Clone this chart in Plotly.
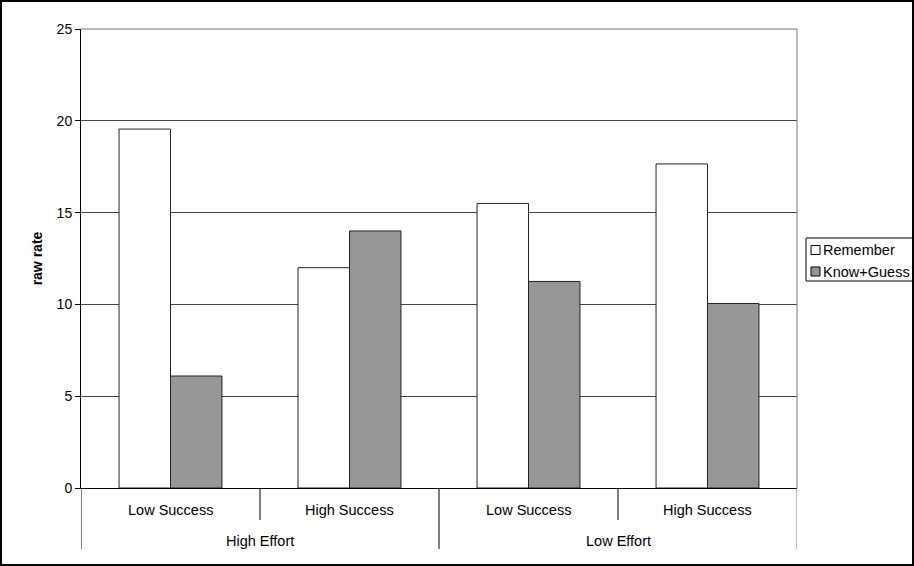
import plotly.graph_objects as go

# Grouped categories: effort level (outer) and success level (inner)
effort_groups = ["High Effort", "Low Effort"]
success = ["Low Success", "High Success", "Low Success", "High Success"]
group_of = [0, 0, 1, 1]

series_names = ["Remember", "Know+Guess"]
remember = [19.55, 12.0, 15.5, 17.65]
know_guess = [6.1, 14.0, 11.25, 10.05]

y_ticks = [0, 5, 10, 15, 20, 25]

FONT = "Liberation Sans, Arial, sans-serif"
FILLS = ["#ffffff", "#969696"]
EDGE = "#222222"

pos = list(range(len(success)))

fig = go.Figure()
for name, vals, fill in zip(series_names, [remember, know_guess], FILLS):
    fig.add_trace(go.Bar(
        x=pos, y=vals, name=name,
        marker=dict(color=fill, line=dict(color=EDGE, width=1)),
    ))

W, H = 914, 566
L, R, T, B = 81, 117, 29, 78
pw = W - L - R
ph = H - T - B

def px_x(p):
    return (p - L) / pw

def px_y(p):
    return (H - B - p) / ph

shapes = []
annotations = []

# inner category labels and short dividers between them
for i, lab in enumerate(success):
    annotations.append(dict(
        x=i, y=px_y(510), xref="x", yref="paper", text=lab, showarrow=False,
        font=dict(size=14.5), xanchor="center", yanchor="middle"))
for i in range(len(success) + 1):
    b = i - 0.5
    outer = i == 0 or i == len(success) or group_of[i] != group_of[i - 1]
    shapes.append(dict(
        type="line", xref="x", yref="paper", x0=b, x1=b, y0=0,
        y1=px_y(549) if outer else px_y(520),
        line=dict(color="#000000" if i < len(success) else "#777777", width=1)))

# outer group labels
for g, lab in enumerate(effort_groups):
    members = [i for i in pos if group_of[i] == g]
    annotations.append(dict(
        x=sum(members) / len(members), y=px_y(541), xref="x", yref="paper",
        text=lab, showarrow=False, font=dict(size=14.5),
        xanchor="center", yanchor="middle"))

# plot-area top and right edges
shapes.append(dict(type="line", xref="paper", yref="paper", x0=0, x1=1, y0=1, y1=1,
                   line=dict(color="#777777", width=1)))
shapes.append(dict(type="line", xref="paper", yref="paper", x0=1, x1=1, y0=0, y1=1,
                   line=dict(color="#777777", width=1)))

# legend box drawn by hand
lx0, lx1, ly0, ly1 = 806, 913, 238, 281
shapes.append(dict(type="rect", xref="paper", yref="paper",
                   x0=px_x(lx0), x1=px_x(lx1), y0=px_y(ly1), y1=px_y(ly0),
                   line=dict(color="#000000", width=1), fillcolor="white"))
for k, (name, fill) in enumerate(zip(series_names, FILLS)):
    cy = 250 + 21.5 * k
    shapes.append(dict(type="rect", xref="paper", yref="paper",
                       x0=px_x(811), x1=px_x(820), y0=px_y(cy + 4.5), y1=px_y(cy - 4.5),
                       line=dict(color="#000000", width=1), fillcolor=fill))
    annotations.append(dict(x=px_x(821), y=px_y(cy), xref="paper", yref="paper",
                            text=name, showarrow=False, font=dict(size=14.5),
                            xanchor="left", yanchor="middle"))

# outer border of the figure
shapes.append(dict(type="rect", xref="paper", yref="paper",
                   x0=px_x(1), x1=px_x(913), y0=px_y(565), y1=px_y(1),
                   line=dict(color="#000000", width=2)))

fig.update_layout(
    width=W, height=H,
    margin=dict(l=L, r=R, t=T, b=B, autoexpand=False),
    paper_bgcolor="white", plot_bgcolor="white",
    barmode="group", bargap=0.425, bargroupgap=0,
    font=dict(family=FONT, size=14, color="#000000"),
    showlegend=False,
    shapes=shapes,
    annotations=annotations,
    xaxis=dict(
        range=[-0.5, len(success) - 0.5], showticklabels=False,
        showline=True, linecolor="#000000", linewidth=1,
        ticks="", showgrid=False, zeroline=False,
    ),
    yaxis=dict(
        range=[0, 25], tickvals=y_ticks, ticks="outside", ticklen=5,
        tickcolor="#000000", showline=True, linecolor="#000000", linewidth=1,
        showgrid=True, gridcolor="#444444", gridwidth=1, zeroline=False,
        tickfont=dict(size=14),
        title=dict(text="<b>raw rate</b>", font=dict(size=14), standoff=10),
    ),
)

fig.write_html("out.html")
